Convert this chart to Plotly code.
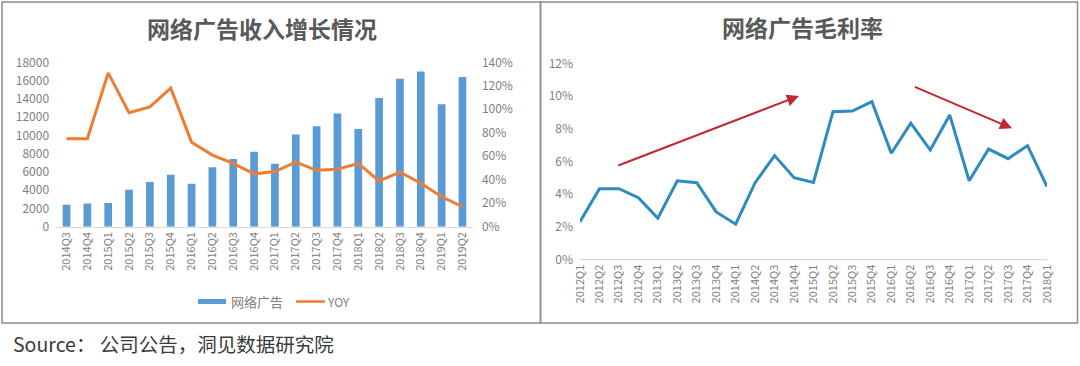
import plotly.graph_objects as go

# ---------------- data ----------------
left_quarters = ["2014Q3", "2014Q4", "2015Q1", "2015Q2", "2015Q3", "2015Q4",
                 "2016Q1", "2016Q2", "2016Q3", "2016Q4", "2017Q1", "2017Q2",
                 "2017Q3", "2017Q4", "2018Q1", "2018Q2", "2018Q3", "2018Q4",
                 "2019Q1", "2019Q2"]
ad_revenue = [2400, 2550, 2600, 4050, 4900, 5700, 4700, 6500, 7400, 8200,
              6900, 10100, 11000, 12400, 10700, 14100, 16200, 17000, 13400, 16400]
yoy = [0.75, 0.75, 1.31, 0.97, 1.02, 1.18, 0.72, 0.61, 0.54, 0.45,
       0.47, 0.55, 0.48, 0.49, 0.54, 0.39, 0.465, 0.37, 0.255, 0.17]

right_quarters = ["2012Q1", "2012Q2", "2012Q3", "2012Q4", "2013Q1", "2013Q2",
                  "2013Q3", "2013Q4", "2014Q1", "2014Q2", "2014Q3", "2014Q4",
                  "2015Q1", "2015Q2", "2015Q3", "2015Q4", "2016Q1", "2016Q2",
                  "2016Q3", "2016Q4", "2017Q1", "2017Q2", "2017Q3", "2017Q4",
                  "2018Q1"]
gross_margin = [0.023, 0.0432, 0.0432, 0.0377, 0.0251, 0.0481, 0.0469, 0.029,
                0.0215, 0.0469, 0.0635, 0.050, 0.0471, 0.0904, 0.0908, 0.0965,
                0.0649, 0.0833, 0.0669, 0.0884, 0.0481, 0.0675, 0.0616, 0.0696,
                0.0445]

# trend arrows (tail index, tail value, head index, head value)
trend_arrows = [(1.89, 0.0571, 11.25, 0.100),
                (17.13, 0.106, 22.2, 0.0802)]

left_title = "网络广告收入增长情况"
right_title = "网络广告毛利率"
bar_name = "网络广告"
line_name = "YOY"
source_text = "Source： 公司公告，洞见数据研究院"

# ---------------- figure ----------------
W, H = 1080, 366
def px(x):
    return x / W
def py(y):
    return 1 - y / H

FONT = "Noto Sans CJK SC, Noto Sans, sans-serif"
TICK_COLOR = "#808080"
BAR_COLOR = "#5B9BD5"
ORANGE = "#ED7D31"
TEAL = "#2E8BC0"
RED = "#C0282D"

fig = go.Figure()

fig.add_trace(go.Bar(x=left_quarters, y=ad_revenue, name=bar_name,
                     marker=dict(color=BAR_COLOR, line=dict(width=0)),
                     xaxis="x", yaxis="y", showlegend=False))
fig.add_trace(go.Scatter(x=left_quarters, y=yoy, name=line_name, mode="lines",
                         line=dict(color=ORANGE, width=3),
                         xaxis="x", yaxis="y2", showlegend=False))
fig.add_trace(go.Scatter(x=right_quarters, y=gross_margin, mode="lines",
                         line=dict(color=TEAL, width=3),
                         xaxis="x2", yaxis="y3", showlegend=False))

tickfont = dict(family=FONT, size=12, color=TICK_COLOR)
xtickfont = dict(family=FONT, size=11, color=TICK_COLOR)

fig.update_layout(
    template="none",
    width=W, height=H,
    margin=dict(l=0, r=0, t=0, b=0, autoexpand=False),
    paper_bgcolor="white", plot_bgcolor="rgba(0,0,0,0)",
    bargap=0.63,
    font=dict(family=FONT),
    xaxis=dict(domain=[px(56.1), px(472.9)], anchor="y", type="category",
               tickangle=-90, tickfont=xtickfont, showgrid=False,
               showline=True, linecolor="#d9d9d9", linewidth=1,
               ticks="", zeroline=False, automargin=False),
    yaxis=dict(domain=[py(226.7), py(62.3)], anchor="x", range=[0, 18000],
               dtick=2000, tickformat="d", tickfont=tickfont, showgrid=False,
               zeroline=False, showline=False, ticks="", ticklabelstandoff=6,
               automargin=False),
    yaxis2=dict(overlaying="y", side="right", anchor="x", range=[0, 1.4],
                dtick=0.2, tickformat=".0%", tickfont=tickfont, showgrid=False,
                zeroline=False, showline=False, ticks="", ticklabelstandoff=8,
                automargin=False),
    xaxis2=dict(domain=[px(580), px(1047)], anchor="y3", type="category",
                tickangle=-90, tickfont=xtickfont, showgrid=False,
                showline=True, linecolor="#d9d9d9", linewidth=1,
                ticks="", zeroline=False, automargin=False),
    yaxis3=dict(domain=[py(259.3), py(63.3)], anchor="x2", range=[0, 0.12],
                dtick=0.02, tickformat=".0%", tickfont=tickfont, showgrid=False,
                zeroline=False, showline=False, ticks="", ticklabelstandoff=6,
                automargin=False),
)

shapes = [
    dict(type="rect", xref="paper", yref="paper", x0=px(2), x1=px(540.5),
         y0=py(323), y1=py(2), line=dict(color="#8c8c8c", width=1.5)),
    dict(type="rect", xref="paper", yref="paper", x0=px(540.5), x1=px(1077.5),
         y0=py(323), y1=py(2), line=dict(color="#8c8c8c", width=1.5)),
    # legend symbols
    dict(type="rect", xref="paper", yref="paper", x0=px(198), x1=px(226),
         y0=py(304), y1=py(299), fillcolor=BAR_COLOR, line=dict(width=0)),
    dict(type="line", xref="paper", yref="paper", x0=px(296), x1=px(325),
         y0=py(301.5), y1=py(301.5), line=dict(color=ORANGE, width=2.5)),
]

title_font = dict(family=FONT, size=23, color="#595959", weight="bold")
annotations = [
    dict(text=left_title, xref="paper", yref="paper", x=px(262), y=py(28),
         showarrow=False, font=title_font, xanchor="center", yanchor="middle"),
    dict(text=right_title, xref="paper", yref="paper", x=px(802), y=py(27),
         showarrow=False, font=title_font, xanchor="center", yanchor="middle"),
    dict(text=bar_name, xref="paper", yref="paper", x=px(229), y=py(301.5),
         showarrow=False, font=dict(family=FONT, size=13, color=TICK_COLOR),
         xanchor="left", yanchor="middle"),
    dict(text=line_name, xref="paper", yref="paper", x=px(325), y=py(301.5),
         showarrow=False, font=dict(family=FONT, size=12, color=TICK_COLOR),
         xanchor="left", yanchor="middle"),
    dict(text=source_text, xref="paper", yref="paper", x=px(11), y=py(343),
         showarrow=False, font=dict(family=FONT, size=19.5, color="#3a3a3a"),
         xanchor="left", yanchor="middle"),
]
for (x0, y0, x1, y1) in trend_arrows:
    annotations.append(dict(x=x1, y=y1, ax=x0, ay=y0, xref="x2", yref="y3",
                            axref="x2", ayref="y3", showarrow=True, text="",
                            arrowhead=2, arrowsize=1.2, arrowwidth=2,
                            arrowcolor=RED))

fig.update_layout(shapes=shapes, annotations=annotations)

fig.write_html("out.html",
               config={"displayModeBar": False},
               post_script="document.body.style.margin='0';"
                           "document.body.style.overflow='hidden';")
